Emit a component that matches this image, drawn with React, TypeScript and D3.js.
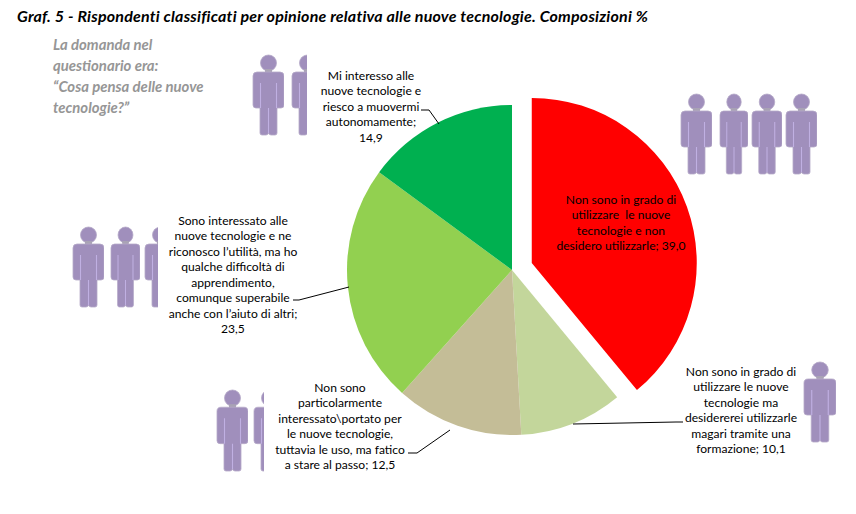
import React from "react";
import * as d3 from "d3";

const categories = ["Non sono in grado di utilizzare le nuove tecnologie e non desidero utilizzarle", "Non sono in grado di utilizzare le nuove tecnologie ma desidererei utilizzarle", "Non sono particolarmente interessato", "Sono interessato alle nuove tecnologie", "Mi interesso alle nuove tecnologie"];
const values = [39.0, 10.1, 12.5, 23.5, 14.9];
const colors = ["#FF0000", "#C3D69B", "#C4BD97", "#92D050", "#00B050"];
const explode = [21, 0, 0, 0, 0];

const titleText = "Graf. 5 - Rispondenti classificati per opinione relativa alle nuove tecnologie. Composizioni %";
const noteLines = ["La domanda nel", "questionario era:", "“Cosa pensa delle nuove", "tecnologie?”"];

const labelLines = [
  ["Non sono in grado di", "utilizzare  le nuove", "tecnologie e non", "desidero utilizzarle; 39,0"],
  ["Non sono in grado di", "utilizzare le nuove", "tecnologie ma", "desidererei utilizzarle", "magari tramite una", "formazione; 10,1"],
  ["Non sono", "particolarmente", "interessato\\portato per", "le nuove tecnologie,", "tuttavia le uso, ma fatico", "a stare al passo; 12,5"],
  ["Sono interessato alle", "nuove tecnologie e ne", "riconosco l’utilità, ma ho", "qualche difficoltà di", "apprendimento,", "comunque superabile", "anche con l’aiuto di altri;", "23,5"],
  ["Mi interesso alle", "nuove tecnologie e", "riesco a muovermi", "autonomamente;", "14,9"],
];
const labelX = [621, 741, 340, 233, 371];
const labelFirstY = [200, 372, 388, 221, 76];
const leaders: [number, number][][] = [
  [],
  [[573, 424], [676, 422], [683, 422]],
  [[408, 453], [417, 453], [450, 430]],
  [[293, 300], [299, 300], [349, 287]],
  [[421, 110], [429, 110], [439, 124]],
];

// x, y, width, height, clip width of each person figure
const people = [
  [681, 94, 31, 80, 31], [720, 94, 28, 80, 28], [752, 94, 30, 80, 30], [786, 94, 31, 80, 31],
  [253, 55, 31, 80, 31], [292, 55, 31, 80, 15],
  [73, 227, 31, 80, 31], [111, 227, 29, 80, 29], [145, 227, 31, 80, 13],
  [217, 390, 31, 81, 31], [254, 390, 31, 81, 10],
  [804, 362, 32, 80, 32],
];

const FONT = "Lato, Carlito, 'Open Sans', sans-serif";
const LH = 15.45;
const cx = 512, cy = 270, R = 165;

function Person({ p, i }: { p: number[]; i: number }) {
  const [x, y, w, h, clip] = p;
  return (
    <g transform={`translate(${x},${y})`} clipPath={`url(#pc${i})`}>
      <clipPath id={`pc${i}`}><rect x={-1} y={-1} width={clip + 1} height={h + 2} /></clipPath>
      <g transform={`scale(${w / 31},${h / 80})`}>
        <circle cx={15.5} cy={8} r={8} fill="#A08FBC" stroke="#B5A9C8" strokeWidth={0.8} />
        <rect x={12} y={14} width={7} height={4} fill="#A9A3B5" />
        <path
          d="M4 17 H27 Q31 17 31 21 V50 Q31 53 28 53 H24 V78 Q24 80 22 80 H18 Q16 80 15.5 78 Q15 80 13 80 H9 Q7 80 7 78 V53 H3 Q0 53 0 50 V21 Q0 17 4 17Z"
          fill="#A08FBC" stroke="#B5A9C8" strokeWidth={0.8}
        />
        <path d="M7.5 28 V53 M23.5 28 V53 M15.5 53 V78" stroke="#C0B0E2" strokeWidth={1.1} fill="none" />
      </g>
    </g>
  );
}

export default function App() {
  const pie = d3.pie<number>().sort(null).value((d) => d);
  const arc = d3.arc<d3.PieArcDatum<number>>().innerRadius(0).outerRadius(R);
  const arcs = pie(values);
  const line = d3.line();
  return (
    <svg width={856} height={514} style={{ position: "absolute", left: 0, top: 0, background: "#fff" }} fontFamily={FONT}>
      <text x={17} y={22} fontSize={16} letterSpacing={0.2} fontWeight={700} fontStyle="italic" fill="#000">{titleText}</text>
      {noteLines.map((t, i) => (
        <text key={i} x={53} y={50 + i * 21} fontSize={14.9} fontWeight={700} fontStyle="italic" fill="#969696">{t}</text>
      ))}
      {people.map((p, i) => <Person key={i} p={p} i={i} />)}
      {arcs.map((a, i) => {
        const mid = (a.startAngle + a.endAngle) / 2;
        const dx = explode[i] * Math.sin(mid), dy = -explode[i] * Math.cos(mid);
        return (
          <path key={categories[i]} d={arc(a) ?? ""} fill={colors[i]} transform={`translate(${cx + dx},${cy + dy})`} />
        );
      })}
      {leaders.map((l, i) => l.length ? <path key={i} d={line(l) ?? ""} fill="none" stroke="#000" strokeWidth={1} /> : null)}
      {labelLines.map((lines, i) => (
        <g key={i} textAnchor="middle" fontSize={12.1} fill="#000">
          {lines.map((t, j) => (
            <text key={j} x={labelX[i]} y={labelFirstY[i] + j * LH + 4} xmlSpace="preserve">{t}</text>
          ))}
        </g>
      ))}
    </svg>
  );
}
